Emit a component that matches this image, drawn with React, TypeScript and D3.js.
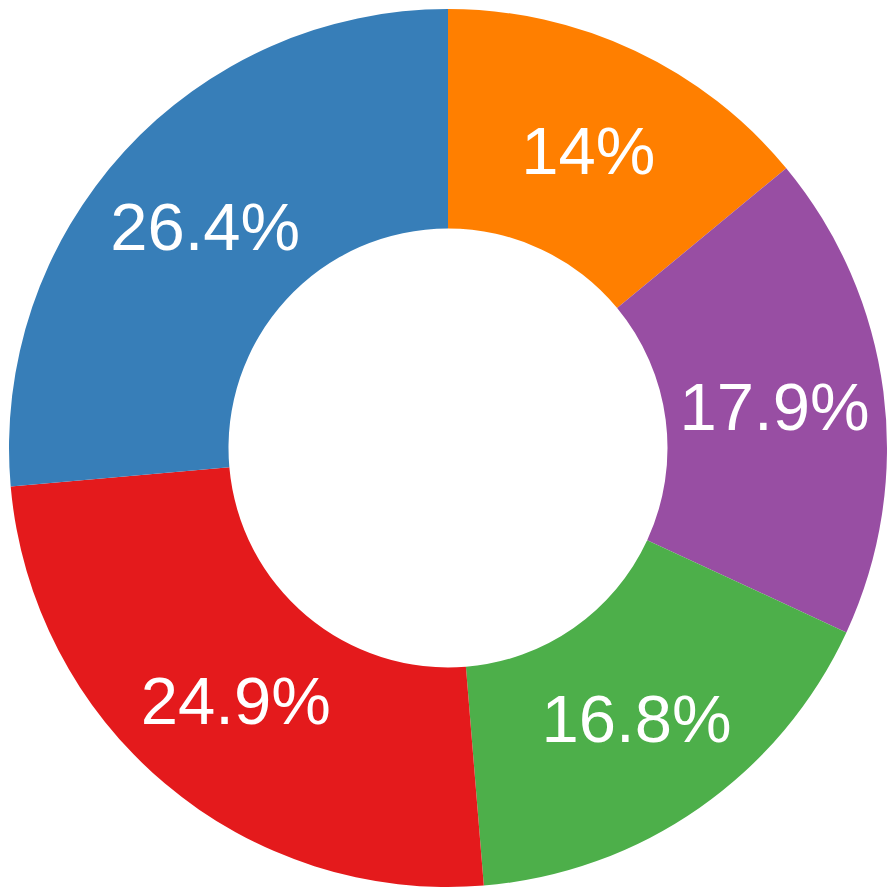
import React, { useRef, useEffect } from "react";
import * as d3 from "d3";

const labels = ["A", "B", "C", "D", "E"];
const values = [14, 17.9, 16.8, 24.9, 26.4];
const colors = ["#ff7f00", "#984ea3", "#4daf4a", "#e41a1c", "#377eb8"];

export default function App() {
  const ref = useRef<SVGSVGElement>(null);
  const width = 896;
  const height = 896;

  useEffect(() => {
    const outer = 439;
    const inner = outer * 0.5;
    const svg = d3.select(ref.current);
    svg.selectAll("*").remove();
    const g = svg.append("g").attr("transform", `translate(${width / 2},${height / 2})`);

    const data = labels.map((l, i) => ({ label: l, value: values[i], color: colors[i] }));
    const total = d3.sum(values);
    const pie = d3.pie<any>().sort(null).value(d => d.value);
    const arc = d3.arc<any>().innerRadius(inner).outerRadius(outer);
    const arcs = pie(data);

    g.selectAll("path")
      .data(arcs)
      .enter()
      .append("path")
      .attr("d", arc)
      .attr("fill", d => d.data.color);

    // percent labels at the middle of each ring segment
    g.selectAll("text")
      .data(arcs)
      .enter()
      .append("text")
      .attr("transform", d => `translate(${arc.centroid(d)})`)
      .attr("text-anchor", "middle")
      .attr("dy", "0.36em")
      .attr("font-family", "'Liberation Sans', Arial, sans-serif")
      .attr("font-size", 67)
      .attr("fill", "#fff")
      .text(d => `${+((d.data.value / total) * 100).toFixed(1)}%`);
  }, []);

  return (
    <svg
      ref={ref}
      width={width}
      height={height}
      style={{ position: "absolute", left: 0, top: 0, display: "block", background: "#fff" }}
    />
  );
}
